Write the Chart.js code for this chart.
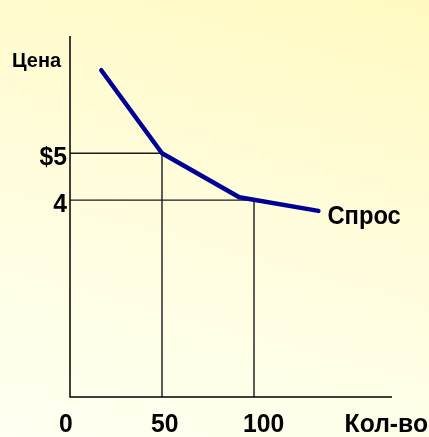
<!DOCTYPE html>
<html>
<head>
<meta charset="utf-8">
<script src="https://cdn.jsdelivr.net/npm/chart.js@4/dist/chart.umd.min.js"></script>
<style>
    html, body {
        margin: 0;
        padding: 0;
    }
    body {
        width: 429px;
        height: 437px;
        overflow: hidden;
        background: linear-gradient(195deg, #fff9c0 0%, #fffcd8 40%, #fffff2 100%);
    }
    canvas {
        display: block;
    }
</style>
</head>
<body>
<canvas id="demand" width="429" height="437"></canvas>
<script>
// Demand curve (quantity, price)
const quantity = [17, 50, 92, 135];
const price = [6.77, 5, 4.06, 3.77];

// Marked points with guide lines
const markedQuantity = [50, 100];
const markedPrice = [5, 4];

// Tick labels
const xTickValues = [0, 50, 100];
const xTickLabels = ['0', '50', '100'];
const yTickValues = [5, 4];
const yTickLabels = ['$5', '4'];

const xAxisTitle = 'Кол-во';
const yAxisTitle = 'Цена';
const curveLabel = 'Спрос';

const X_MIN = 0, X_MAX = 175;
const Y_MIN = -0.2, Y_MAX = 7.5;

const FONT = '"Liberation Sans", Arial, sans-serif';

const demandPoints = quantity.map((q, i) => ({ x: q, y: price[i] }));

// Guide lines: horizontal from price axis, then down to quantity axis
const guideSets = markedQuantity.map((q, i) => ({
    data: [
        { x: X_MIN, y: markedPrice[i] },
        { x: q, y: markedPrice[i] },
        { x: q, y: Y_MIN }
    ],
    showLine: true,
    borderColor: '#1a1a1a',
    borderWidth: 1.4,
    pointRadius: 0,
    tension: 0,
    order: 2
}));

// slightly condensed text, like Arial Narrow bold
function narrowText(ctx, text, x, y, align, sx = 0.95) {
    const w = ctx.measureText(text).width * sx;
    let left = x;
    if (align === 'right') left = x - w;
    if (align === 'center') left = x - w / 2;
    ctx.save();
    ctx.textAlign = 'left';
    ctx.translate(left, y);
    ctx.scale(sx, 1);
    ctx.fillText(text, 0, 0);
    ctx.restore();
}

/**
 * Axes and text labels
 */
const labelPlugin = {
    id: 'labels',
    afterDatasetsDraw(chart) {
        const { ctx, chartArea, scales } = chart;
        const xs = scales.x, ys = scales.y;

        ctx.save();
        // axes
        ctx.strokeStyle = '#000';
        ctx.lineWidth = 1.5;
        ctx.beginPath();
        ctx.moveTo(chartArea.left, chartArea.top);
        ctx.lineTo(chartArea.left, chartArea.bottom);
        ctx.lineTo(chartArea.right, chartArea.bottom);
        ctx.stroke();

        ctx.fillStyle = '#000';
        ctx.textBaseline = 'alphabetic';

        // y title
        ctx.font = 'bold 21px ' + FONT;
        narrowText(ctx, yAxisTitle, 12, 67, 'left');

        // y ticks
        ctx.font = 'bold 26px ' + FONT;
        yTickValues.forEach((v, i) => {
            narrowText(ctx, yTickLabels[i], chartArea.left - 3, ys.getPixelForValue(v) + 12, 'right');
        });

        // x ticks
        ctx.font = 'bold 26px ' + FONT;
        xTickValues.forEach((v, i) => {
            narrowText(ctx, xTickLabels[i], xs.getPixelForValue(v) - 11, 432, 'left');
        });

        // x title
        narrowText(ctx, xAxisTitle, 428, 432, 'right');

        // curve label
        const last = demandPoints[demandPoints.length - 1];
        ctx.font = 'bold 25px ' + FONT;
        narrowText(ctx, curveLabel, xs.getPixelForValue(last.x) + 9, ys.getPixelForValue(last.y) + 13, 'left');
        ctx.restore();
    }
};

new Chart(document.getElementById('demand'), {
    type: 'scatter',
    data: {
        datasets: [
            {
                data: demandPoints,
                showLine: true,
                borderColor: '#000096',
                borderWidth: 4.5,
                borderCapStyle: 'round',
                borderJoinStyle: 'round',
                pointRadius: 0,
                tension: 0,
                order: 1
            },
            ...guideSets
        ]
    },
    options: {
        responsive: false,
        animation: false,
        layout: {
            padding: { left: 70, top: 36, right: 37, bottom: 40 }
        },
        plugins: {
            legend: { display: false },
            tooltip: { enabled: false }
        },
        scales: {
            x: { type: 'linear', min: X_MIN, max: X_MAX, display: false },
            y: { type: 'linear', min: Y_MIN, max: Y_MAX, display: false }
        }
    },
    plugins: [labelPlugin]
});
</script>
</body>
</html>
